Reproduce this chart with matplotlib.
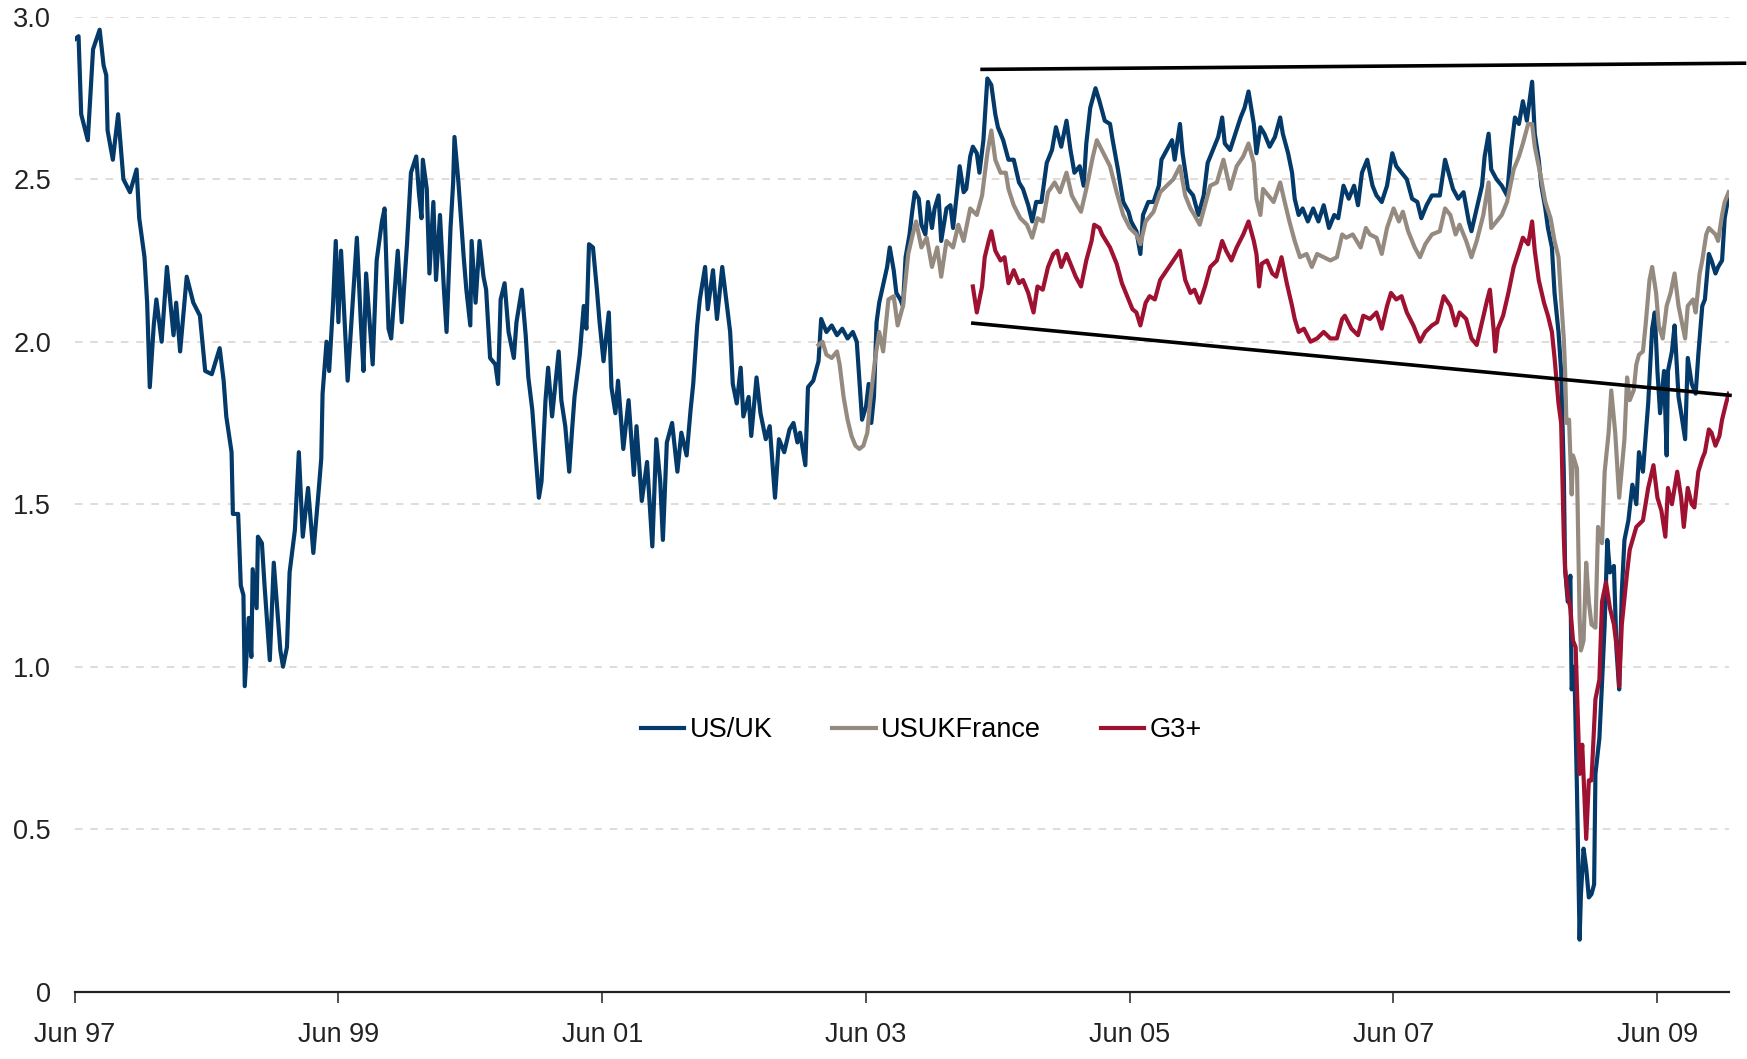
import datetime as dt
import matplotlib
matplotlib.use("Agg")
import matplotlib.pyplot as plt
import matplotlib.dates as mdates
from matplotlib.ticker import FuncFormatter

START = dt.datetime(1997, 6, 1)

# (years after Jun 97, level)
us_uk = [
    (0.00, 2.93), (0.03, 2.94), (0.05, 2.70), (0.10, 2.62), (0.14, 2.90), (0.19, 2.96),
    (0.22, 2.85), (0.24, 2.82), (0.25, 2.65), (0.29, 2.56), (0.33, 2.70), (0.37, 2.50),
    (0.42, 2.46), (0.47, 2.53), (0.49, 2.38), (0.53, 2.26), (0.55, 2.12), (0.57, 1.86),
    (0.60, 2.05), (0.62, 2.13), (0.66, 2.00), (0.70, 2.23), (0.75, 2.02), (0.77, 2.12),
    (0.80, 1.97), (0.85, 2.20), (0.90, 2.12), (0.95, 2.08), (0.99, 1.91), (1.04, 1.90),
    (1.10, 1.98), (1.13, 1.88), (1.15, 1.77), (1.19, 1.66), (1.20, 1.47), (1.24, 1.47),
    (1.26, 1.25), (1.28, 1.22), (1.29, 0.94), (1.32, 1.15), (1.34, 1.03), (1.35, 1.30),
    (1.38, 1.18), (1.39, 1.40), (1.42, 1.38), (1.44, 1.25), (1.48, 1.02), (1.51, 1.32),
    (1.56, 1.05), (1.58, 1.00), (1.61, 1.06), (1.63, 1.29), (1.67, 1.42), (1.70, 1.66),
    (1.73, 1.40), (1.77, 1.55), (1.81, 1.35), (1.85, 1.54), (1.87, 1.64), (1.88, 1.84),
    (1.91, 2.00), (1.93, 1.91), (1.96, 2.12), (1.98, 2.31), (2.00, 2.06), (2.02, 2.28),
    (2.07, 1.88), (2.11, 2.13), (2.14, 2.32), (2.17, 2.06), (2.19, 1.91), (2.21, 2.21),
    (2.26, 1.93), (2.29, 2.25), (2.33, 2.37), (2.35, 2.41), (2.38, 2.04), (2.40, 2.01),
    (2.45, 2.28), (2.48, 2.06), (2.52, 2.30), (2.55, 2.52), (2.59, 2.57), (2.61, 2.46),
    (2.63, 2.38), (2.64, 2.56), (2.67, 2.47), (2.69, 2.21), (2.72, 2.43), (2.74, 2.19),
    (2.77, 2.39), (2.80, 2.16), (2.82, 2.03), (2.85, 2.35), (2.87, 2.49), (2.88, 2.63),
    (2.91, 2.49), (2.95, 2.26), (2.97, 2.16), (3.00, 2.05), (3.01, 2.31), (3.04, 2.12),
    (3.07, 2.31), (3.10, 2.20), (3.12, 2.16), (3.15, 1.95), (3.19, 1.93), (3.21, 1.87),
    (3.23, 2.13), (3.26, 2.18), (3.29, 2.03), (3.33, 1.95), (3.35, 2.06), (3.39, 2.16),
    (3.42, 2.02), (3.44, 1.89), (3.47, 1.79), (3.49, 1.68), (3.52, 1.52), (3.54, 1.57),
    (3.57, 1.82), (3.59, 1.92), (3.62, 1.77), (3.64, 1.85), (3.67, 1.97), (3.69, 1.82),
    (3.72, 1.74), (3.75, 1.60), (3.77, 1.72), (3.79, 1.83), (3.83, 1.96), (3.86, 2.11),
    (3.88, 2.04), (3.90, 2.30), (3.93, 2.29), (3.96, 2.16), (3.98, 2.06), (4.01, 1.94),
    (4.05, 2.09), (4.07, 1.86), (4.10, 1.78), (4.12, 1.88), (4.16, 1.67), (4.20, 1.82),
    (4.24, 1.59), (4.26, 1.74), (4.30, 1.51), (4.34, 1.63), (4.38, 1.37), (4.41, 1.70),
    (4.44, 1.57), (4.46, 1.39), (4.49, 1.69), (4.53, 1.75), (4.57, 1.60), (4.60, 1.72),
    (4.64, 1.65), (4.67, 1.79), (4.69, 1.87), (4.72, 2.05), (4.74, 2.13), (4.78, 2.23),
    (4.80, 2.10), (4.84, 2.22), (4.87, 2.07), (4.91, 2.23), (4.94, 2.13), (4.97, 2.03),
    (4.99, 1.87), (5.02, 1.81), (5.05, 1.92), (5.07, 1.77), (5.11, 1.83), (5.13, 1.71),
    (5.17, 1.89), (5.20, 1.78), (5.24, 1.70), (5.27, 1.74), (5.31, 1.52), (5.34, 1.70),
    (5.38, 1.66), (5.42, 1.73), (5.45, 1.75), (5.48, 1.69), (5.50, 1.72), (5.54, 1.62),
    (5.56, 1.86), (5.60, 1.88), (5.64, 1.94), (5.66, 2.07), (5.70, 2.03), (5.74, 2.05),
    (5.78, 2.02), (5.82, 2.04), (5.86, 2.01), (5.90, 2.03), (5.93, 2.00), (5.95, 1.88),
    (5.97, 1.76), (6.00, 1.80), (6.02, 1.87), (6.04, 1.75), (6.06, 1.83), (6.08, 2.06),
    (6.10, 2.12), (6.16, 2.23), (6.18, 2.29), (6.21, 2.22), (6.23, 2.15), (6.26, 2.13),
    (6.28, 2.11), (6.30, 2.26), (6.33, 2.33), (6.35, 2.40), (6.37, 2.46), (6.40, 2.44),
    (6.42, 2.36), (6.45, 2.33), (6.47, 2.43), (6.50, 2.35), (6.52, 2.41), (6.55, 2.45),
    (6.57, 2.31), (6.61, 2.41), (6.64, 2.42), (6.66, 2.35), (6.69, 2.46), (6.71, 2.54),
    (6.74, 2.46), (6.76, 2.47), (6.79, 2.57), (6.81, 2.60), (6.84, 2.58), (6.86, 2.52),
    (6.89, 2.62), (6.92, 2.81), (6.95, 2.79), (6.98, 2.70), (7.00, 2.66), (7.04, 2.62),
    (7.08, 2.56), (7.12, 2.56), (7.16, 2.49), (7.19, 2.47), (7.23, 2.42), (7.26, 2.37),
    (7.29, 2.43), (7.33, 2.43), (7.37, 2.55), (7.41, 2.59), (7.44, 2.66), (7.48, 2.60),
    (7.52, 2.68), (7.55, 2.59), (7.58, 2.52), (7.62, 2.54), (7.65, 2.48), (7.67, 2.61),
    (7.70, 2.72), (7.74, 2.78), (7.77, 2.74), (7.81, 2.68), (7.85, 2.67), (7.87, 2.62),
    (7.91, 2.53), (7.95, 2.43), (7.99, 2.40), (8.01, 2.37), (8.05, 2.34), (8.08, 2.27),
    (8.10, 2.39), (8.14, 2.43), (8.18, 2.43), (8.22, 2.48), (8.24, 2.56), (8.28, 2.59),
    (8.32, 2.62), (8.34, 2.56), (8.38, 2.67), (8.40, 2.58), (8.44, 2.47), (8.48, 2.45),
    (8.52, 2.39), (8.56, 2.45), (8.59, 2.55), (8.63, 2.59), (8.67, 2.63), (8.70, 2.69),
    (8.72, 2.61), (8.76, 2.59), (8.80, 2.64), (8.84, 2.69), (8.87, 2.72), (8.90, 2.77),
    (8.94, 2.67), (8.96, 2.58), (8.99, 2.66), (9.02, 2.64), (9.06, 2.60), (9.10, 2.63),
    (9.14, 2.69), (9.16, 2.64), (9.20, 2.58), (9.23, 2.52), (9.25, 2.44), (9.28, 2.39),
    (9.31, 2.41), (9.35, 2.37), (9.39, 2.41), (9.43, 2.37), (9.47, 2.42), (9.51, 2.35),
    (9.55, 2.39), (9.58, 2.38), (9.62, 2.48), (9.66, 2.44), (9.70, 2.48), (9.73, 2.42),
    (9.76, 2.52), (9.80, 2.56), (9.84, 2.48), (9.87, 2.45), (9.91, 2.43), (9.95, 2.48),
    (9.99, 2.58), (10.02, 2.54), (10.06, 2.52), (10.10, 2.50), (10.14, 2.44), (10.18, 2.43),
    (10.21, 2.38), (10.25, 2.42), (10.29, 2.45), (10.35, 2.45), (10.39, 2.56), (10.41, 2.53),
    (10.45, 2.47), (10.49, 2.44), (10.53, 2.46), (10.57, 2.37), (10.59, 2.34), (10.63, 2.41),
    (10.67, 2.48), (10.69, 2.57), (10.72, 2.64), (10.74, 2.53), (10.78, 2.50), (10.82, 2.48),
    (10.86, 2.45), (10.89, 2.59), (10.92, 2.69), (10.95, 2.67), (10.98, 2.74), (11.01, 2.68),
    (11.03, 2.74), (11.05, 2.80), (11.07, 2.64), (11.10, 2.56), (11.12, 2.48), (11.15, 2.41),
    (11.17, 2.35), (11.20, 2.29), (11.22, 2.15), (11.25, 2.03), (11.27, 1.91), (11.29, 1.60),
    (11.30, 1.30), (11.32, 1.20), (11.34, 1.28), (11.35, 0.93), (11.37, 1.00), (11.39, 0.62),
    (11.41, 0.16), (11.42, 0.30), (11.44, 0.44), (11.46, 0.38), (11.48, 0.29), (11.50, 0.30),
    (11.52, 0.33), (11.53, 0.67), (11.56, 0.78), (11.58, 0.95), (11.60, 1.13), (11.62, 1.39),
    (11.64, 1.29), (11.67, 1.31), (11.69, 1.05), (11.71, 0.93), (11.73, 1.23), (11.75, 1.39),
    (11.78, 1.45), (11.81, 1.56), (11.84, 1.50), (11.86, 1.66), (11.89, 1.60), (11.93, 1.81),
    (11.96, 2.04), (11.98, 2.09), (12.00, 1.91), (12.02, 1.78), (12.05, 1.91), (12.07, 1.65),
    (12.08, 1.91), (12.11, 1.97), (12.13, 2.05), (12.16, 1.83), (12.18, 1.78), (12.21, 1.70),
    (12.23, 1.95), (12.26, 1.87), (12.29, 1.84), (12.31, 1.96), (12.34, 2.11), (12.36, 2.13),
    (12.39, 2.27), (12.41, 2.25), (12.44, 2.21), (12.46, 2.23), (12.49, 2.25), (12.51, 2.38),
    (12.54, 2.45),
]

usuk_france = [
    (5.64, 1.99), (5.67, 2.00), (5.70, 1.96), (5.74, 1.95), (5.78, 1.97), (5.80, 1.93),
    (5.83, 1.83), (5.86, 1.76), (5.89, 1.71), (5.92, 1.68), (5.95, 1.67), (5.98, 1.68),
    (6.01, 1.72), (6.03, 1.81), (6.07, 1.95), (6.10, 2.03), (6.13, 1.97), (6.17, 2.13),
    (6.21, 2.14), (6.24, 2.05), (6.28, 2.11), (6.32, 2.27), (6.36, 2.34), (6.38, 2.37),
    (6.42, 2.29), (6.46, 2.32), (6.50, 2.23), (6.54, 2.29), (6.57, 2.20), (6.61, 2.31),
    (6.66, 2.29), (6.70, 2.36), (6.74, 2.31), (6.79, 2.41), (6.84, 2.39), (6.88, 2.45),
    (6.92, 2.58), (6.95, 2.65), (6.98, 2.56), (7.02, 2.52), (7.06, 2.52), (7.08, 2.47),
    (7.12, 2.42), (7.17, 2.38), (7.22, 2.36), (7.26, 2.32), (7.30, 2.38), (7.34, 2.37),
    (7.38, 2.46), (7.43, 2.49), (7.47, 2.46), (7.52, 2.52), (7.56, 2.45), (7.60, 2.42),
    (7.63, 2.40), (7.67, 2.47), (7.72, 2.57), (7.75, 2.62), (7.80, 2.58), (7.85, 2.54),
    (7.90, 2.46), (7.95, 2.39), (8.00, 2.35), (8.05, 2.33), (8.08, 2.30), (8.12, 2.37),
    (8.18, 2.40), (8.23, 2.46), (8.28, 2.48), (8.33, 2.50), (8.38, 2.54), (8.42, 2.45),
    (8.46, 2.41), (8.49, 2.39), (8.53, 2.36), (8.57, 2.42), (8.61, 2.48), (8.66, 2.49),
    (8.71, 2.56), (8.76, 2.47), (8.81, 2.54), (8.86, 2.57), (8.90, 2.61), (8.94, 2.55),
    (8.96, 2.44), (8.99, 2.39), (9.01, 2.47), (9.05, 2.45), (9.09, 2.43), (9.14, 2.49),
    (9.18, 2.42), (9.21, 2.37), (9.25, 2.31), (9.29, 2.26), (9.34, 2.27), (9.38, 2.23),
    (9.42, 2.27), (9.47, 2.26), (9.52, 2.25), (9.57, 2.26), (9.61, 2.33), (9.64, 2.32),
    (9.69, 2.33), (9.75, 2.29), (9.79, 2.35), (9.82, 2.33), (9.87, 2.32), (9.91, 2.27),
    (9.95, 2.35), (10.00, 2.41), (10.04, 2.37), (10.07, 2.40), (10.11, 2.34), (10.16, 2.29),
    (10.20, 2.26), (10.24, 2.30), (10.29, 2.33), (10.35, 2.34), (10.39, 2.41), (10.43, 2.39),
    (10.47, 2.33), (10.50, 2.36), (10.55, 2.31), (10.59, 2.26), (10.63, 2.31), (10.68, 2.39),
    (10.72, 2.49), (10.74, 2.35), (10.78, 2.37), (10.82, 2.39), (10.86, 2.43), (10.91, 2.53),
    (10.95, 2.57), (10.98, 2.61), (11.02, 2.67), (11.05, 2.67), (11.07, 2.60), (11.11, 2.52),
    (11.15, 2.43), (11.19, 2.38), (11.22, 2.31), (11.25, 2.26), (11.27, 2.13), (11.29, 2.01),
    (11.30, 1.91), (11.31, 1.75), (11.33, 1.76), (11.35, 1.53), (11.36, 1.65), (11.39, 1.61),
    (11.41, 1.15), (11.42, 1.05), (11.44, 1.08), (11.46, 1.32), (11.48, 1.20), (11.50, 1.13),
    (11.53, 1.12), (11.55, 1.43), (11.58, 1.38), (11.60, 1.60), (11.63, 1.72), (11.65, 1.85),
    (11.68, 1.72), (11.71, 1.52), (11.75, 1.70), (11.77, 1.89), (11.79, 1.82), (11.82, 1.85),
    (11.84, 1.93), (11.86, 1.96), (11.89, 1.97), (11.91, 2.05), (11.94, 2.19), (11.96, 2.23),
    (11.99, 2.15), (12.01, 2.05), (12.04, 2.01), (12.07, 2.11), (12.10, 2.15), (12.13, 2.21),
    (12.16, 2.11), (12.18, 2.07), (12.21, 2.01), (12.23, 2.11), (12.27, 2.13), (12.29, 2.09),
    (12.32, 2.21), (12.34, 2.25), (12.37, 2.33), (12.39, 2.35), (12.44, 2.33), (12.46, 2.31),
    (12.49, 2.39), (12.51, 2.43), (12.54, 2.46),
]

g3_plus = [
    (6.81, 2.17), (6.84, 2.09), (6.88, 2.17), (6.90, 2.26), (6.93, 2.31), (6.95, 2.34),
    (6.98, 2.28), (7.02, 2.25), (7.05, 2.26), (7.08, 2.18), (7.12, 2.22), (7.16, 2.18),
    (7.19, 2.19), (7.23, 2.15), (7.27, 2.09), (7.30, 2.17), (7.34, 2.16), (7.38, 2.23),
    (7.42, 2.27), (7.45, 2.28), (7.48, 2.23), (7.52, 2.27), (7.56, 2.23), (7.59, 2.20),
    (7.63, 2.17), (7.67, 2.25), (7.71, 2.31), (7.73, 2.36), (7.77, 2.35), (7.79, 2.33),
    (7.85, 2.29), (7.90, 2.24), (7.94, 2.18), (7.98, 2.14), (8.02, 2.10), (8.05, 2.09),
    (8.08, 2.05), (8.12, 2.12), (8.15, 2.14), (8.19, 2.13), (8.23, 2.19), (8.28, 2.22),
    (8.33, 2.25), (8.38, 2.28), (8.42, 2.19), (8.46, 2.15), (8.49, 2.16), (8.53, 2.12),
    (8.57, 2.17), (8.61, 2.23), (8.66, 2.25), (8.70, 2.31), (8.73, 2.28), (8.77, 2.25),
    (8.81, 2.29), (8.86, 2.33), (8.90, 2.37), (8.94, 2.31), (8.96, 2.27), (8.98, 2.17),
    (9.00, 2.24), (9.04, 2.25), (9.08, 2.21), (9.11, 2.20), (9.15, 2.26), (9.19, 2.18),
    (9.23, 2.11), (9.25, 2.07), (9.28, 2.03), (9.32, 2.04), (9.37, 2.00), (9.42, 2.01),
    (9.47, 2.03), (9.52, 2.01), (9.57, 2.01), (9.61, 2.07), (9.63, 2.08), (9.68, 2.04),
    (9.73, 2.02), (9.77, 2.08), (9.82, 2.07), (9.87, 2.09), (9.91, 2.04), (9.95, 2.11),
    (9.98, 2.15), (10.02, 2.13), (10.06, 2.14), (10.10, 2.09), (10.15, 2.05), (10.20, 2.00),
    (10.24, 2.03), (10.29, 2.05), (10.33, 2.06), (10.38, 2.14), (10.43, 2.11), (10.47, 2.05),
    (10.50, 2.09), (10.55, 2.07), (10.59, 2.01), (10.63, 1.99), (10.67, 2.06), (10.71, 2.13),
    (10.73, 2.16), (10.76, 2.03), (10.77, 1.97), (10.79, 2.04), (10.83, 2.08), (10.87, 2.15),
    (10.91, 2.23), (10.95, 2.28), (10.98, 2.32), (11.02, 2.30), (11.05, 2.37), (11.07, 2.28),
    (11.10, 2.19), (11.14, 2.12), (11.17, 2.08), (11.20, 2.03), (11.22, 1.95), (11.25, 1.81),
    (11.27, 1.75), (11.29, 1.40), (11.30, 1.30), (11.32, 1.22), (11.34, 1.18), (11.36, 1.08),
    (11.38, 1.06), (11.41, 0.67), (11.43, 0.76), (11.46, 0.47), (11.48, 0.65), (11.50, 0.65),
    (11.53, 0.90), (11.56, 0.96), (11.58, 1.20), (11.61, 1.26), (11.64, 1.18), (11.67, 1.13),
    (11.70, 1.03), (11.71, 0.94), (11.73, 1.13), (11.77, 1.29), (11.79, 1.36), (11.84, 1.43),
    (11.89, 1.45), (11.93, 1.55), (11.97, 1.62), (12.00, 1.52), (12.03, 1.48), (12.06, 1.40),
    (12.08, 1.55), (12.11, 1.50), (12.15, 1.60), (12.18, 1.52), (12.20, 1.43), (12.23, 1.55),
    (12.26, 1.50), (12.28, 1.49), (12.31, 1.60), (12.34, 1.64), (12.36, 1.66), (12.39, 1.73),
    (12.41, 1.72), (12.44, 1.68), (12.47, 1.71), (12.49, 1.76), (12.52, 1.81), (12.54, 1.84),
]

upper_trend = [(6.88, 2.838), (12.66, 2.857)]
lower_trend = [(6.81, 2.057), (12.55, 1.835)]

series_names = ["US/UK", "USUKFrance", "G3+"]
series_colors = ["#033a69", "#958a80", "#9e1131"]
tick_years = [1997, 1999, 2001, 2003, 2005, 2007, 2009]
y_ticks = [0, 0.5, 1.0, 1.5, 2.0, 2.5, 3.0]
x_end = 12.54


def to_dates(points):
    ts = [p[0] for p in points]
    vs = [p[1] for p in points]
    return [START + dt.timedelta(days=t * 365.25) for t in ts], vs


plt.rcParams['font.family'] = ['Liberation Sans', 'DejaVu Sans']

fig = plt.figure(figsize=(17.47, 10.59), dpi=100)
ax = fig.add_axes([0.0427, 0.0636, 0.9468, 0.9206])

for pts, name, col in zip([us_uk, usuk_france, g3_plus], series_names, series_colors):
    d, v = to_dates(pts)
    ax.plot(d, v, color=col, lw=3.0, label=name)

for pts in [upper_trend, lower_trend]:
    d, v = to_dates(pts)
    ax.plot(d, v, color='black', lw=2.6, clip_on=False, zorder=5)

ax.set_xlim(START, START + dt.timedelta(days=x_end * 365.25))
ax.set_ylim(0, 3.0)

ax.set_yticks(y_ticks)
ax.yaxis.set_major_formatter(FuncFormatter(lambda v, p: '0' if v == 0 else '%.1f' % v))
ax.set_xticks([dt.datetime(y, 6, 1) for y in tick_years])
ax.xaxis.set_major_formatter(mdates.DateFormatter('%b %y'))

ax.yaxis.grid(True, color='#d8d2cc', linestyle=(0, (5, 5)), lw=1.1)
ax.set_axisbelow(True)
for s in ['left', 'top', 'right']:
    ax.spines[s].set_visible(False)
ax.spines['bottom'].set_color('#222222')
ax.spines['bottom'].set_linewidth(1.6)

ax.tick_params(axis='y', length=0, pad=17, labelsize=19.5, labelcolor='#222222')
ax.tick_params(axis='x', length=8, width=1.1, color='#222222', pad=14,
               labelsize=19.5, labelcolor='#222222')

ax.legend(loc='center', bbox_to_anchor=(0.512, 0.268), ncol=3, frameon=False,
          fontsize=19.5, handlelength=1.6, handletextpad=0.2, columnspacing=2.2)

fig.savefig('out.png', dpi=100)
